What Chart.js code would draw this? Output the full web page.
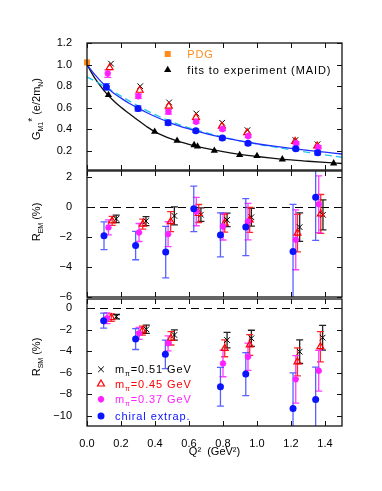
<!DOCTYPE html>
<html><head><meta charset="utf-8">
<script src="https://cdn.jsdelivr.net/npm/chart.js@4/dist/chart.umd.min.js"></script>
<style>
html,body{margin:0;padding:0;background:#fff;}
#wrap{position:relative;width:382px;height:491px;overflow:hidden;}
canvas{position:absolute;left:0;}
</style></head><body>
<div id="wrap">
<canvas id="c1" width="382" height="172" style="top:0px"></canvas>
<canvas id="c2" width="382" height="130" style="top:170px"></canvas>
<canvas id="c3" width="382" height="194" style="top:297px"></canvas>
</div>
<script>
// ---------- tick labels ----------
const qTicks = [0, 0.2, 0.4, 0.6, 0.8, 1.0, 1.2, 1.4];
const gTicks = [0.2, 0.4, 0.6, 0.8, 1.0, 1.2];
const emTicks = [-6, -4, -2, 0, 2];
const smTicks = [-10, -8, -6, -4, -2, 0];

// ---------- panel 1 : G*_M1 ----------
const pdgQ2 = [0.0];
const pdgG = [1.02];
const maidQ2 = [0.126, 0.398, 0.53, 0.63, 0.65, 0.749, 0.898, 1.0, 1.149, 1.451];
const maidG = [0.72, 0.379, 0.296, 0.256, 0.244, 0.204, 0.164, 0.155, 0.124, 0.087];
const curveQ2 = [0, 0.05, 0.1, 0.15, 0.2, 0.25, 0.3, 0.35, 0.4, 0.5, 0.6, 0.7, 0.8, 0.9, 1.0, 1.1, 1.2, 1.3, 1.4, 1.5];
const maidFitG = [1.0, 0.865, 0.76, 0.675, 0.605, 0.545, 0.485, 0.428, 0.378, 0.31, 0.262, 0.225, 0.195, 0.17, 0.15, 0.133, 0.118, 0.106, 0.095, 0.085];
const chiralFitG = [1.0, 0.9, 0.815, 0.745, 0.69, 0.64, 0.597, 0.557, 0.52, 0.455, 0.405, 0.362, 0.325, 0.295, 0.268, 0.245, 0.225, 0.207, 0.19, 0.173];
const altFitG = [0.886, 0.845, 0.8, 0.755, 0.708, 0.662, 0.618, 0.576, 0.537, 0.47, 0.415, 0.37, 0.33, 0.295, 0.265, 0.238, 0.212, 0.188, 0.165, 0.143];

const gChiralQ2 = [0.114, 0.30, 0.477, 0.64, 0.796, 0.947, 1.228, 1.357];
const gChiral = [0.794, 0.594, 0.462, 0.388, 0.32, 0.272, 0.222, 0.185];
const gChiralErr = [0.03, 0.025, 0.025, 0.015, 0.015, 0.015, 0.015, 0.02];
const gM37Q2 = [0.122, 0.302, 0.479, 0.642, 0.797, 0.948, 1.23, 1.36];
const gM37 = [0.917, 0.708, 0.563, 0.471, 0.404, 0.339, 0.272, 0.235];
const gM37Err = [0.035, 0.02, 0.02, 0.015, 0.015, 0.015, 0.015, 0.015];
const gM45Q2 = [0.133, 0.31, 0.481, 0.641, 0.793, 0.942, 1.224, 1.354];
const gM45 = [0.972, 0.763, 0.616, 0.512, 0.431, 0.37, 0.29, 0.247];
const gM51Q2 = [0.141, 0.313, 0.483, 0.643, 0.795, 0.944, 1.226, 1.356];
const gM51 = [1.009, 0.80, 0.65, 0.548, 0.462, 0.394, 0.302, 0.263];

// ---------- panel 2 : R_EM (%) ----------
const emChiralQ2 = [0.10, 0.286, 0.463, 0.628, 0.785, 0.934, 1.212, 1.345];
const emChiral = [-1.91, -2.56, -3.0, -0.11, -1.85, -1.33, -2.96, 0.67];
const emChiralErr = [0.93, 0.95, 1.72, 1.52, 1.47, 1.9, 3.15, 2.89];
const emM37Q2 = [0.126, 0.306, 0.477, 0.643, 0.8, 0.947, 1.228, 1.363];
const emM37 = [-1.35, -1.69, -1.8, -0.29, -1.29, -0.96, -2.18, 0.2];
const emM37Err = [0.5, 0.6, 0.83, 0.95, 0.9, 1.22, 2.0, 1.9];
const emM45Q2 = [0.148, 0.328, 0.492, 0.657, 0.81, 0.957, 1.238, 1.375];
const emM45 = [-0.91, -1.13, -0.96, -0.42, -1.07, -0.85, -1.73, -0.45];
const emM45Err = [0.3, 0.33, 0.67, 0.6, 0.6, 0.83, 1.25, 1.3];
const emM51Q2 = [0.172, 0.347, 0.514, 0.67, 0.824, 0.967, 1.251, 1.388];
const emM51 = [-0.78, -0.93, -0.58, -0.5, -0.85, -0.67, -1.33, -0.51];
const emM51Err = [0.25, 0.3, 0.6, 0.45, 0.45, 0.6, 0.95, 1.0];

// ---------- panel 3 : R_SM (%) ----------
const smChiralQ2 = [0.098, 0.286, 0.461, 0.785, 0.934, 1.212, 1.345];
const smChiral = [-1.15, -2.86, -4.28, -7.29, -6.11, -9.3, -8.47];
const smChiralErr = [0.7, 0.97, 1.32, 1.8, 2.0, 3.3, 3.0];
const smM37Q2 = [0.118, 0.306, 0.477, 0.8, 0.947, 1.228, 1.363];
const smM37 = [-0.93, -2.33, -3.26, -5.12, -4.5, -6.6, -5.8];
const smM37Err = [0.5, 0.55, 0.7, 1.24, 1.27, 2.2, 1.9];
const smM45Q2 = [0.143, 0.326, 0.494, 0.81, 0.957, 1.238, 1.373];
const smM45 = [-0.87, -2.08, -2.79, -3.72, -3.41, -4.97, -3.57];
const smM45Err = [0.35, 0.42, 0.62, 0.78, 0.96, 1.3, 1.4];
const smM51Q2 = [0.173, 0.349, 0.514, 0.824, 0.967, 1.251, 1.386];
const smM51 = [-0.78, -1.95, -2.48, -2.95, -2.79, -4.03, -2.73];
const smM51Err = [0.2, 0.38, 0.47, 0.72, 0.75, 1.1, 1.15];

// ---------- styles ----------
const FONT = 'Arial, "Liberation Sans", Helvetica, sans-serif';
const C_BLUE = '#0a14ff', C_MAG = '#ff20ff', C_RED = '#ff0000', C_ORANGE = '#ff8c1a';
const styles = {
  chiral: {pointStyle:'circle', pointRadius:3.5, backgroundColor:C_BLUE, borderColor:C_BLUE, borderWidth:0, errColor:'rgba(60,70,255,0.85)'},
  m37: {pointStyle:'star', pointRadius:3.2, backgroundColor:C_MAG, borderColor:C_MAG, borderWidth:2, errColor:'rgba(255,40,255,0.9)'},
  m45: {pointStyle:'triangle', pointRadius:4, backgroundColor:'rgba(255,255,255,0)', borderColor:C_RED, borderWidth:1.2, errColor:'rgba(255,20,20,0.9)'},
  m51: {pointStyle:'crossRot', pointRadius:4, backgroundColor:'#000', borderColor:'#000', borderWidth:1, errColor:'#222'},
  maid: {pointStyle:'triangle', pointRadius:4.2, backgroundColor:'#000', borderColor:'#000', borderWidth:0},
  pdg: {pointStyle:'rect', pointRadius:4.3, backgroundColor:C_ORANGE, borderColor:C_ORANGE, borderWidth:0}
};

function pts(xs, ys) { return xs.map((x, i) => ({x: x, y: ys[i]})); }
function marks(label, xs, ys, errs, st) {
  return Object.assign({label: label, data: pts(xs, ys), errors: errs, showLine: false, clip: false,
    pointHoverRadius: 0}, st);
}
function curve(label, ys, color, dash) {
  return {label: label, data: pts(curveQ2, ys), showLine: true, pointRadius: 0, borderColor: color,
    borderWidth: 1.3, borderDash: dash || [], cubicInterpolationMode: 'monotone', fill: false};
}

function drawRich(ctx, segs, cx, cy, opt) {
  ctx.save();
  ctx.translate(cx, cy);
  if (opt.rotate) ctx.rotate(-Math.PI / 2);
  ctx.textAlign = 'left'; ctx.textBaseline = 'alphabetic';
  const ls = (opt.ls || 0) + 'px';
  let total = 0; const ws = [];
  segs.forEach(s => { ctx.font = s.size + 'px ' + FONT; ctx.letterSpacing = ls; const w = ctx.measureText(s.t).width; ws.push(w); total += w; });
  let x = opt.align === 'left' ? 0 : -total / 2;
  segs.forEach((s, i) => { ctx.font = s.size + 'px ' + FONT; ctx.letterSpacing = ls; ctx.fillStyle = opt.color || '#000'; ctx.fillText(s.t, x, 4 + (s.dy || 0)); x += ws[i]; });
  ctx.restore();
}

function panelPlugin(cfg) {
  return {
    id: 'panelDeco',
    beforeDatasetsDraw(chart) {
      const ctx = chart.ctx, a = chart.chartArea, xs = chart.scales.x, ys = chart.scales.y;
      ctx.save();
      if (cfg.zero) {
        const y0 = Math.round(ys.getPixelForValue(0)) + 0.5;
        ctx.strokeStyle = '#000'; ctx.lineWidth = 1; ctx.setLineDash([8, 5]);
        ctx.beginPath(); ctx.moveTo(a.left, y0); ctx.lineTo(a.right, y0); ctx.stroke();
        ctx.setLineDash([]);
      }
      ctx.beginPath(); ctx.rect(a.left, a.top, a.right - a.left, a.bottom - a.top); ctx.clip();
      chart.data.datasets.slice().reverse().forEach(ds => {
        if (!ds.errors) return;
        ctx.strokeStyle = ds.errColor; ctx.lineWidth = 1.3;
        ds.data.forEach((p, j) => {
          const x = xs.getPixelForValue(p.x);
          const yt = ys.getPixelForValue(p.y + ds.errors[j]);
          const yb = ys.getPixelForValue(p.y - ds.errors[j]);
          ctx.beginPath();
          ctx.moveTo(x, yt); ctx.lineTo(x, yb);
          ctx.moveTo(x - 3.5, yt); ctx.lineTo(x + 3.5, yt);
          ctx.moveTo(x - 3.5, yb); ctx.lineTo(x + 3.5, yb);
          ctx.stroke();
        });
      });
      ctx.restore();
    },
    afterDraw(chart) {
      const ctx = chart.ctx, a = chart.chartArea, xs = chart.scales.x, ys = chart.scales.y;
      ctx.save();
      ctx.strokeStyle = '#111'; ctx.lineWidth = 1.3;
      ctx.strokeRect(a.left, a.top, a.right - a.left, a.bottom - a.top);
      ctx.lineWidth = 1;
      ctx.beginPath();
      qTicks.forEach(v => {
        const x = Math.round(xs.getPixelForValue(v)) + 0.5;
        ctx.moveTo(x, a.top); ctx.lineTo(x, a.top + 5);
        ctx.moveTo(x, a.bottom); ctx.lineTo(x, a.bottom - 5);
      });
      cfg.yTicks.forEach(v => {
        const y = Math.round(ys.getPixelForValue(v)) + 0.5;
        ctx.moveTo(a.left, y); ctx.lineTo(a.left + 5, y);
        ctx.moveTo(a.right, y); ctx.lineTo(a.right - 5, y);
      });
      ctx.stroke();
      // y-axis title
      drawRich(ctx, cfg.title, 36, a.top + cfg.titleOff, {rotate: true});
      // legend
      (cfg.legend || []).forEach(it => {
        const mx = a.left + it.dx, my = a.top + it.dy;
        const st = it.style;
        ctx.fillStyle = st.backgroundColor; ctx.strokeStyle = st.borderColor;
        ctx.lineWidth = st.borderWidth;
        Chart.helpers.drawPoint(ctx, {pointStyle: st.pointStyle, radius: st.pointRadius, borderWidth: st.borderWidth, rotation: 0}, mx, my);
        drawRich(ctx, it.text, mx + it.tx, my, {align: 'left', color: it.color, ls: 0.9});
      });
      ctx.restore();
    }
  };
}

function fmt1(v) { return (v < 0 ? '\u2212' : '') + Math.abs(v).toFixed(1); }
function fmt0(v) { return (v < 0 ? '\u2212' : '') + Math.abs(v).toFixed(0); }
function noPad(s) { s.paddingTop = 0; s.paddingBottom = 0; s.paddingLeft = 0; s.paddingRight = 0; }

function makeChart(id, datasets, yMin, yMax, yTicks, yFmt, o) {
  return new Chart(document.getElementById(id), {
    type: 'scatter',
    data: {datasets: datasets},
    options: {
      responsive: false, animation: false, devicePixelRatio: 1,
      events: [],
      layout: {autoPadding: false, padding: o.padding},
      plugins: {legend: {display: false}, tooltip: {enabled: false}},
      scales: {
        x: {type: 'linear', min: 0, max: 1.5, display: !!o.showX,
          grid: {display: false}, border: {display: false},
          afterBuildTicks: s => { s.ticks = qTicks.map(v => ({value: v})); },
          afterFit: s => { noPad(s); if (o.showX) s.height = o.xH; },
          ticks: {color: '#000', font: {family: FONT, size: 11}, padding: 3, maxRotation: 0, autoSkip: false, callback: v => fmt1(v)},
          title: {display: !!o.showX, text: 'Q\u00B2  (GeV\u00B2)', color: '#000', font: {family: FONT, size: 11}, padding: {top: 4, bottom: 4}}
        },
        y: {type: 'linear', min: yMin, max: yMax,
          grid: {display: false}, border: {display: false},
          afterBuildTicks: s => { s.ticks = yTicks.map(v => ({value: v})); },
          afterFit: s => { noPad(s); s.width = 87; },
          ticks: {color: '#000', font: {family: FONT, size: 11}, padding: 7, autoSkip: false, callback: v => yFmt(v)}
        }
      }
    },
    plugins: [panelPlugin(o.deco)]
  });
}

// Panel 1
makeChart('c1', [
  marks('chiral extrap.', gChiralQ2, gChiral, gChiralErr, styles.chiral),
  marks('m_pi=0.37 GeV', gM37Q2, gM37, gM37Err, styles.m37),
  marks('m_pi=0.45 GeV', gM45Q2, gM45, null, styles.m45),
  marks('m_pi=0.51 GeV', gM51Q2, gM51, null, styles.m51),
  marks('PDG', pdgQ2, pdgG, null, styles.pdg),
  marks('fits to experiment (MAID)', maidQ2, maidG, null, styles.maid),
  curve('chiral fit', chiralFitG, '#2030ff'),
  curve('alt fit', altFitG, '#20c8e8', [7, 4]),
  curve('MAID fit', maidFitG, '#111')
], 0.025, 1.2, gTicks, fmt1, {
  padding: {top: 43, bottom: 2, left: 0, right: 40},
  deco: {yTicks: gTicks, zero: false, titleOff: 66,
    title: [{t: 'G', size: 11}, {t: 'M1', size: 7, dy: 3}, {t: '*', size: 10, dy: -4}, {t: ' (e/2m', size: 11}, {t: 'N', size: 7, dy: 3}, {t: ')', size: 11}],
    legend: [
      {style: styles.pdg, dx: 80.7, dy: 11, tx: 19.5, color: C_ORANGE, text: [{t: 'PDG', size: 11}]},
      {style: styles.maid, dx: 80.7, dy: 27, tx: 19.5, color: '#000', text: [{t: 'fits to experiment (MAID)', size: 11}]}
    ]}
});

// Panel 2
makeChart('c2', [
  marks('chiral extrap.', emChiralQ2, emChiral, emChiralErr, styles.chiral),
  marks('m_pi=0.37 GeV', emM37Q2, emM37, emM37Err, styles.m37),
  marks('m_pi=0.45 GeV', emM45Q2, emM45, emM45Err, styles.m45),
  marks('m_pi=0.51 GeV', emM51Q2, emM51, emM51Err, styles.m51)
], -6, 2.42, emTicks, fmt0, {
  padding: {top: 1, bottom: 3, left: 0, right: 40},
  deco: {yTicks: emTicks, zero: true, titleOff: 51,
    title: [{t: 'R', size: 11}, {t: 'EM', size: 7, dy: 3}, {t: ' (%)', size: 11}]}
});

// Panel 3
makeChart('c3', [
  marks('chiral extrap.', smChiralQ2, smChiral, smChiralErr, styles.chiral),
  marks('m_pi=0.37 GeV', smM37Q2, smM37, smM37Err, styles.m37),
  marks('m_pi=0.45 GeV', smM45Q2, smM45, smM45Err, styles.m45),
  marks('m_pi=0.51 GeV', smM51Q2, smM51, smM51Err, styles.m51)
], -10.93, 0.86, smTicks, fmt0, {
  padding: {top: 2, bottom: 28, left: 0, right: 40},
  showX: true, xH: 37,
  deco: {yTicks: smTicks, zero: true, titleOff: 58,
    title: [{t: 'R', size: 11}, {t: 'SM', size: 7, dy: 3}, {t: ' (%)', size: 11}],
    legend: [
      {style: styles.m51, dx: 14, dy: 70.3, tx: 14, color: '#000', text: [{t: 'm', size: 11}, {t: '\u03C0', size: 7, dy: 3}, {t: '=0.51 GeV', size: 11}]},
      {style: styles.m45, dx: 14, dy: 85, tx: 14, color: C_RED, text: [{t: 'm', size: 11}, {t: '\u03C0', size: 7, dy: 3}, {t: '=0.45 GeV', size: 11}]},
      {style: styles.m37, dx: 14, dy: 100.3, tx: 14, color: C_MAG, text: [{t: 'm', size: 11}, {t: '\u03C0', size: 7, dy: 3}, {t: '=0.37 GeV', size: 11}]},
      {style: styles.chiral, dx: 14, dy: 117, tx: 14, color: C_BLUE, text: [{t: 'chiral extrap.', size: 11}]}
    ]}
});
</script>
</body></html>
